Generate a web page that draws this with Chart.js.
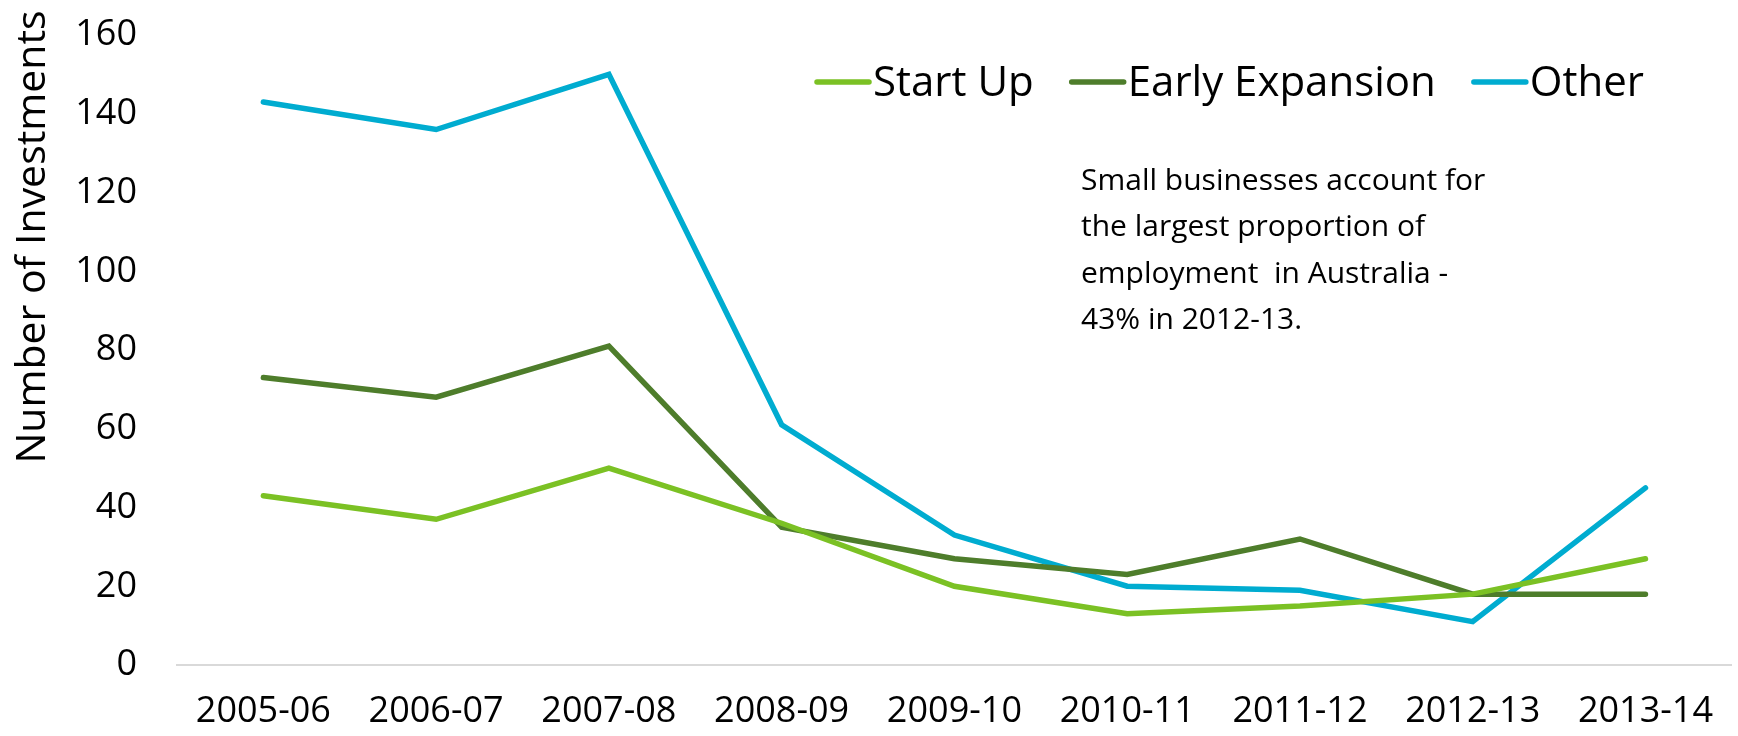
<!DOCTYPE html>
<html>
<head>
<meta charset="utf-8">
<script src="https://cdn.jsdelivr.net/npm/chart.js@4.4.0/dist/chart.umd.min.js"></script>
<style>
  html, body { margin: 0; padding: 0; background: #fff; }
  #wrap { width: 1738px; height: 736px; position: relative; }
</style>
</head>
<body>
<div id="wrap"><canvas id="investChart"></canvas></div>
<script>
const years = ['2005-06', '2006-07', '2007-08', '2008-09', '2009-10', '2010-11', '2011-12', '2012-13', '2013-14'];
const startUp = [43, 37, 50, 36, 20, 13, 15, 18, 27];
const earlyExpansion = [73, 68, 81, 35, 27, 23, 32, 18, 18];
const other = [143, 136, 150, 61, 33, 20, 19, 11, 45];
const yTicks = [0, 20, 40, 60, 80, 100, 120, 140, 160];
const yTitle = 'Number of Investments';
const noteLines = [
    'Small businesses account for',
    'the largest proportion of',
    'employment  in Australia -',
    '43% in 2012-13.'
];

const FONT = '"Open Sans", "Noto Sans", sans-serif';

// legend, axis title and note sit partly inside the plot area, so draw them after the chart
const overlayPlugin = {
    id: 'overlay',
    afterDraw(chart) {
        const ctx = chart.ctx;
        ctx.save();
        ctx.fillStyle = '#000';
        ctx.textBaseline = 'middle';

        // y axis title, placed towards the top like the original
        ctx.save();
        ctx.translate(33, 237);
        ctx.rotate(-Math.PI / 2);
        ctx.textAlign = 'center';
        ctx.font = '41px ' + FONT;
        ctx.fillText(yTitle, 0, 0);
        ctx.restore();

        // legend
        ctx.font = '42px ' + FONT;
        ctx.textAlign = 'left';
        let x = 817;
        const y = 82;
        chart.data.datasets.forEach(ds => {
            ctx.strokeStyle = ds.borderColor;
            ctx.lineWidth = 5.5;
            ctx.lineCap = 'round';
            ctx.beginPath();
            ctx.moveTo(x, y);
            ctx.lineTo(x + 52, y);
            ctx.stroke();
            ctx.fillText(ds.label, x + 56, y + 2);
            x += 56 + ctx.measureText(ds.label).width + 38;
        });

        // note
        ctx.font = '30px ' + FONT;
        noteLines.forEach((line, i) => {
            ctx.fillText(line, 1081, 181 + i * 46.5);
        });
        ctx.restore();
    }
};

function buildChart() {
    const ctx = document.getElementById('investChart').getContext('2d');
    new Chart(ctx, {
        type: 'line',
        data: {
            labels: years,
            datasets: [
                { label: 'Start Up', data: startUp, borderColor: '#7bc124' },
                { label: 'Early Expansion', data: earlyExpansion, borderColor: '#4e7d2b' },
                { label: 'Other', data: other, borderColor: '#00acd0' }
            ]
        },
        options: {
            responsive: true,
            maintainAspectRatio: false,
            animation: false,
            layout: { padding: { top: 35, right: 0, bottom: 0, left: 0 } },
            elements: {
                line: { borderWidth: 5.5, tension: 0, borderCapStyle: 'round', borderJoinStyle: 'miter' },
                point: { radius: 0, hoverRadius: 0 }
            },
            plugins: {
                legend: { display: false },
                tooltip: { enabled: false }
            },
            scales: {
                x: {
                    offset: true,
                    afterFit: scale => { scale.height = 71; },
                    grid: { display: false, drawTicks: false },
                    border: { display: true, color: '#d9d9d9', width: 2 },
                    ticks: {
                        color: '#000',
                        padding: 25,
                        maxRotation: 0,
                        autoSkip: false,
                        font: { family: FONT, size: 36 }
                    }
                },
                y: {
                    min: yTicks[0],
                    max: yTicks[yTicks.length - 1],
                    afterBuildTicks: scale => {
                        scale.ticks = yTicks.map(v => ({ value: v }));
                    },
                    afterFit: scale => {
                        scale.width = 177;
                        scale.paddingTop = 0;
                        scale.paddingBottom = 0;
                    },
                    grid: { display: false, drawTicks: false },
                    border: { display: false },
                    ticks: {
                        color: '#000',
                        padding: 40,
                        font: { family: FONT, size: 36 }
                    }
                }
            }
        },
        plugins: [overlayPlugin]
    });
}

document.fonts.load('36px "Open Sans"').then(buildChart, buildChart);
</script>
</body>
</html>
